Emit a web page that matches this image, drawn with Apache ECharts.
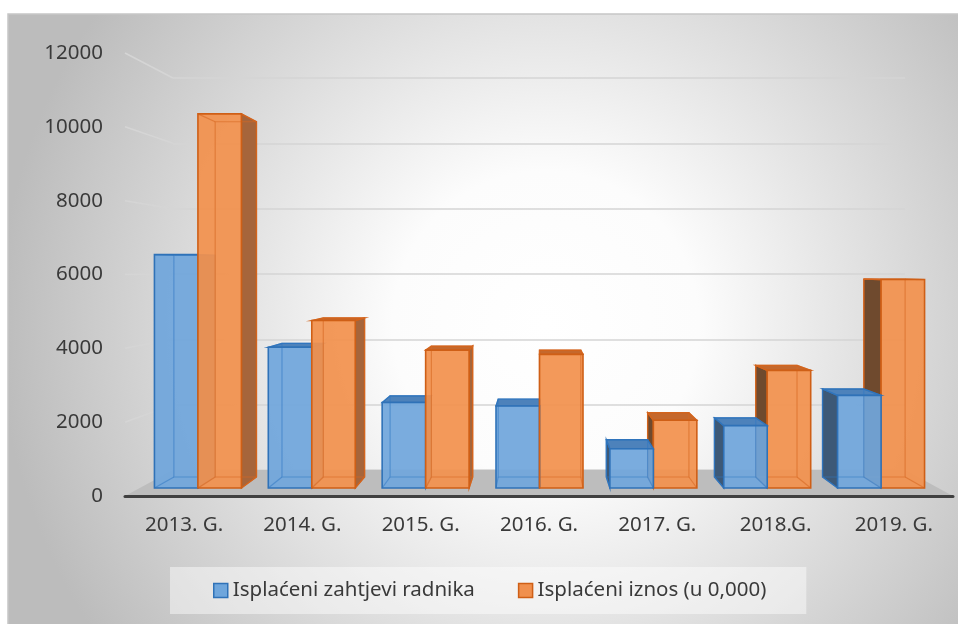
<!DOCTYPE html>
<html><head><meta charset="utf-8">
<script src="https://cdn.jsdelivr.net/npm/echarts@6/dist/echarts.min.js"></script>
<style>html,body{margin:0;padding:0;background:#fff;} #main{width:958px;height:624px;}</style>
</head><body><div id="main"></div>
<script>
// ---- data ----
const categories = ['2013. G.', '2014. G.', '2015. G.', '2016. G.', '2017. G.', '2018.G.', '2019. G.'];
const seriesNames = ['Isplaćeni zahtjevi radnika', 'Isplaćeni iznos (u 0,000)'];
const workerClaims = [6550, 3950, 2400, 2300, 1100, 1750, 2600];
const paidAmount = [10500, 4700, 3870, 3750, 1900, 3300, 5850];
const yMin = 0, yMax = 12000, yInterval = 2000;

// ---- style ----
const FONT = '"Noto Sans", "Open Sans", sans-serif';
const TEXT = '#3a3a3a';
const K_DEPTH = 0.9495;   // back face scale relative to front face (perspective)
const EYE = 0.49;         // vertical vanishing point, fraction of bar grid height
const BAR_FRAC = 0.382;   // bar width / category band

const palette = [
  { front: 'rgba(112,166,220,0.93)', border: '#2f72b8', inner: 'rgba(50,120,195,0.55)',
    leftSide: '#3d5977', rightSide: '#4d7fb3', top: '#4d82bb', legend: '#6fa6dc' },
  { front: 'rgba(242,145,78,0.93)', border: '#cf5f16', inner: 'rgba(215,105,35,0.6)',
    leftSide: '#6f4a2e', rightSide: '#a6653b', top: '#c5682c', legend: '#f0904e' }
];

function makeRender(si) {
  const pal = palette[si];
  return function (params, api) {
    const idx = api.value(0), val = api.value(1);
    const cs = params.coordSys;
    const band = api.size([1, 0])[0];
    const bw = band * BAR_FRAC;
    const top = api.coord([idx, val]);
    const base = api.coord([idx, 0]);
    const x0 = si === 0 ? top[0] - bw : top[0];
    const x1 = x0 + bw;
    const yt = top[1], yb = base[1];
    const cx = cs.x + cs.width / 2, cy = cs.y + cs.height * EYE;
    const P = (x, y) => [cx + (x - cx) * K_DEPTH, cy + (y - cy) * K_DEPTH];
    const fTL = [x0, yt], fTR = [x1, yt], fBR = [x1, yb], fBL = [x0, yb];
    const bTL = P(x0, yt), bTR = P(x1, yt), bBR = P(x1, yb), bBL = P(x0, yb);
    const dist = Math.abs((x0 + x1) / 2 - cx);
    const zb = 20000 - Math.round(dist) * 10;
    const children = [];
    const face = (pts, fill, z) => children.push({
      type: 'polygon', shape: { points: pts }, z2: z,
      style: { fill: fill, stroke: pal.border, lineWidth: 1.3 }
    });
    if (bTL[0] < fTL[0]) face([fTL, fBL, bBL, bTL], pal.leftSide, zb + 1);
    if (bTR[0] > fTR[0]) face([fTR, fBR, bBR, bTR], pal.rightSide, zb + 1);
    if (bTL[1] < fTL[1]) face([fTL, fTR, bTR, bTL], pal.top, zb + 1);
    children.push({
      type: 'rect', shape: { x: x0, y: yt, width: bw, height: yb - yt }, z2: zb + 2,
      style: { fill: pal.front, stroke: null }
    });
    children.push({
      type: 'polygon', shape: { points: [bTL, bTR, bBR, bBL] }, z2: zb + 3,
      style: { fill: null, stroke: pal.inner, lineWidth: 1.2 }
    });
    [[fTL, bTL], [fTR, bTR], [fBR, bBR], [fBL, bBL]].forEach(function (seg) {
      children.push({
        type: 'line', shape: { x1: seg[0][0], y1: seg[0][1], x2: seg[1][0], y2: seg[1][1] }, z2: zb + 3,
        style: { stroke: pal.inner, lineWidth: 1.2 }
      });
    });
    children.push({
      type: 'rect', shape: { x: x0, y: yt, width: bw, height: yb - yt }, z2: zb + 4,
      style: { fill: null, stroke: pal.border, lineWidth: 1.6 }
    });
    return { type: 'group', children: children };
  };
}

const chart = echarts.init(document.getElementById('main'), null, { renderer: 'canvas' });

const option = {
  animation: false,
  backgroundColor: '#ffffff',
  grid: [
    { left: 141, top: 60.4, width: 797, height: 427.6 },   // bars (front face plane)
    { left: 125, top: 53, width: 828, height: 443 },       // front of floor (labels)
    { left: 173, top: 78, width: 732, height: 392 }        // back wall
  ],
  xAxis: [
    { gridIndex: 0, type: 'category', data: categories, show: false },
    { gridIndex: 1, type: 'category', data: categories, z: 5,
      axisLine: { show: true, lineStyle: { color: '#404040', width: 3 } },
      axisTick: { show: false },
      axisLabel: { color: TEXT, fontSize: 20.5, fontFamily: FONT, margin: 19 } },
    { gridIndex: 2, type: 'value', min: 0, max: 1, show: false }
  ],
  yAxis: [
    { gridIndex: 0, type: 'value', min: yMin, max: yMax, interval: yInterval, show: false },
    { gridIndex: 1, type: 'value', min: yMin, max: yMax, interval: yInterval,
      axisLine: { show: false }, axisTick: { show: false }, splitLine: { show: false },
      axisLabel: { color: TEXT, fontSize: 20.5, fontFamily: FONT, margin: 22,
        formatter: function (v) { return String(v); } } },
    { gridIndex: 2, type: 'value', min: yMin, max: yMax, interval: yInterval,
      axisLine: { show: false }, axisTick: { show: false }, axisLabel: { show: false },
      splitLine: { show: true, lineStyle: { color: '#d5d5d5', width: 1.6 } } }
  ],
  legend: {
    left: 170, top: 567,
    padding: [13, 40, 13, 43],
    itemGap: 43, itemWidth: 14, itemHeight: 14,
    backgroundColor: 'rgba(255,255,255,0.45)',
    textStyle: { color: TEXT, fontSize: 20.5, fontFamily: FONT },
    data: seriesNames.map(function (n, i) {
      return { name: n, icon: 'rect', itemStyle: { color: palette[i].legend, borderColor: palette[i].border, borderWidth: 1.5 } };
    })
  },
  series: [
    { name: seriesNames[0], type: 'custom', xAxisIndex: 0, yAxisIndex: 0,
      itemStyle: { color: palette[0].legend, borderColor: palette[0].border },
      renderItem: makeRender(0), data: workerClaims.map(function (v, i) { return [i, v]; }) },
    { name: seriesNames[1], type: 'custom', xAxisIndex: 0, yAxisIndex: 0,
      itemStyle: { color: palette[1].legend, borderColor: palette[1].border },
      renderItem: makeRender(1), data: paidAmount.map(function (v, i) { return [i, v]; }) }
  ]
};
chart.setOption(option);

// ---- decorations derived from the axes: floor, side-wall grid lines, chart background ----
const c0 = chart.convertToPixel({ xAxisIndex: 1 }, categories[0]);
const cN = chart.convertToPixel({ xAxisIndex: 1 }, categories[categories.length - 1]);
const bandF = (cN - c0) / (categories.length - 1);
const frontL = c0 - bandF / 2, frontR = cN + bandF / 2;
const backL = chart.convertToPixel({ xAxisIndex: 2 }, 0);
const backR = chart.convertToPixel({ xAxisIndex: 2 }, 1);
const yFront = function (v) { return chart.convertToPixel({ yAxisIndex: 1 }, v); };
const yBack = function (v) { return chart.convertToPixel({ yAxisIndex: 2 }, v); };

const graphics = [{
  type: 'rect', id: 'bg', z: -100, silent: true,
  shape: { x: 8, y: 14, width: 960, height: 620 },
  style: {
    fill: { type: 'radial', x: 0.56, y: 0.5, r: 0.88, colorStops: [
      { offset: 0, color: '#ffffff' }, { offset: 0.28, color: '#fcfcfc' }, { offset: 1, color: '#bcbcbc' }] },
    stroke: '#c6c6c6', lineWidth: 1.5
  }
}, {
  type: 'polygon', id: 'floor', z: 1, silent: true,
  shape: { points: [[frontL, yFront(0)], [frontR, yFront(0)], [backR, yBack(0)], [backL, yBack(0)]] },
  style: { fill: '#bdbdbd' }
}];
for (let v = yMin + yInterval; v <= yMax; v += yInterval) {
  graphics.push({
    type: 'line', id: 'side' + v, z: 0, silent: true,
    shape: { x1: frontL, y1: yFront(v), x2: backL, y2: yBack(v) },
    style: { stroke: '#d5d5d5', lineWidth: 1.6 }
  });
}
chart.setOption({ graphic: graphics });
</script>
</body></html>
